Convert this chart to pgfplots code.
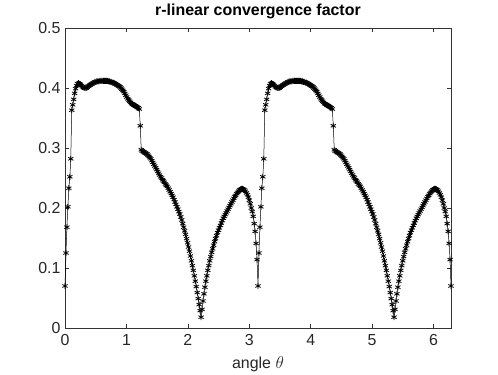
\documentclass[border=0pt]{standalone}
\usepackage{fontspec}
\setmainfont{Liberation Sans}
\usepackage{pgfplots}
\pgfplotsset{compat=1.18}
\begin{document}
\begin{tikzpicture}
\begin{axis}[
  scale only axis, width=386bp, height=300bp,
  xmin=0, xmax=6.2832, ymin=0, ymax=0.5,
  xtick={0,1,2,3,4,5,6}, ytick={0,0.1,0.2,0.3,0.4,0.5},
  tick align=inside, tick pos=both, major tick length=4bp,
  axis line style={black!80, line width=0.5bp},
  every tick/.style={black!80, line width=0.5bp},
  /pgf/number format/assume math mode=true,
  tick label style={font=\fontsize{16}{18}\selectfont, black!85},
  xticklabel style={yshift=-3bp},
  yticklabel style={xshift=-1bp},
  xlabel={angle $\theta$},
  xlabel style={font=\fontsize{16}{18}\selectfont, black!85, at={(axis description cs:0.5,0)}, anchor=base, yshift=-40bp},
  title={r-linear convergence factor},
  title style={font=\bfseries\fontsize{16}{18}\selectfont},
]
\addplot[black, line width=0.5bp, mark=asterisk, mark size=3bp, mark options={line width=0.8bp}] coordinates {
(0.000,0.070) (0.016,0.125) (0.031,0.168) (0.047,0.202) (0.063,0.233) (0.079,0.252) (0.094,0.282) (0.110,0.363) (0.126,0.372) (0.141,0.381)
(0.157,0.391) (0.173,0.399) (0.188,0.404) (0.204,0.407) (0.220,0.408) (0.236,0.407) (0.251,0.406) (0.267,0.404) (0.283,0.402) (0.298,0.401)
(0.314,0.400) (0.330,0.400) (0.346,0.400) (0.361,0.401) (0.377,0.403) (0.393,0.404) (0.408,0.405) (0.424,0.406) (0.440,0.407) (0.456,0.408)
(0.471,0.409) (0.487,0.410) (0.503,0.410) (0.518,0.411) (0.534,0.411) (0.550,0.411) (0.565,0.412) (0.581,0.412) (0.597,0.412) (0.613,0.412)
(0.628,0.412) (0.644,0.412) (0.660,0.412) (0.675,0.412) (0.691,0.412) (0.707,0.411) (0.723,0.411) (0.738,0.410) (0.754,0.410) (0.770,0.409)
(0.785,0.409) (0.801,0.408) (0.817,0.407) (0.833,0.406) (0.848,0.405) (0.864,0.404) (0.880,0.403) (0.895,0.402) (0.911,0.400) (0.927,0.398)
(0.942,0.396) (0.958,0.394) (0.974,0.391) (0.990,0.388) (1.005,0.385) (1.021,0.382) (1.037,0.380) (1.052,0.378) (1.068,0.376) (1.084,0.374)
(1.100,0.373) (1.115,0.372) (1.131,0.371) (1.147,0.370) (1.162,0.369) (1.178,0.368) (1.194,0.367) (1.210,0.365) (1.225,0.337) (1.241,0.297)
(1.257,0.295) (1.272,0.294) (1.288,0.293) (1.304,0.292) (1.319,0.291) (1.335,0.290) (1.351,0.288) (1.367,0.286) (1.382,0.284) (1.398,0.282)
(1.414,0.279) (1.429,0.276) (1.445,0.273) (1.461,0.270) (1.477,0.267) (1.492,0.264) (1.508,0.261) (1.524,0.258) (1.539,0.255) (1.555,0.252)
(1.571,0.250) (1.587,0.247) (1.602,0.245) (1.618,0.243) (1.634,0.240) (1.649,0.238) (1.665,0.236) (1.681,0.233) (1.696,0.230) (1.712,0.227)
(1.728,0.224) (1.744,0.221) (1.759,0.218) (1.775,0.214) (1.791,0.210) (1.806,0.206) (1.822,0.202) (1.838,0.198) (1.854,0.194) (1.869,0.190)
(1.885,0.185) (1.901,0.180) (1.916,0.174) (1.932,0.168) (1.948,0.162) (1.963,0.156) (1.979,0.149) (1.995,0.142) (2.011,0.135) (2.026,0.128)
(2.042,0.120) (2.058,0.112) (2.073,0.104) (2.089,0.096) (2.105,0.087) (2.121,0.078) (2.136,0.069) (2.152,0.059) (2.168,0.049) (2.183,0.039)
(2.199,0.029) (2.215,0.018) (2.231,0.031) (2.246,0.045) (2.262,0.057) (2.278,0.068) (2.293,0.078) (2.309,0.087) (2.325,0.096) (2.341,0.104)
(2.356,0.112) (2.372,0.119) (2.388,0.126) (2.403,0.132) (2.419,0.138) (2.435,0.144) (2.450,0.149) (2.466,0.154) (2.482,0.159) (2.498,0.163)
(2.513,0.167) (2.529,0.171) (2.545,0.175) (2.560,0.179) (2.576,0.183) (2.592,0.186) (2.608,0.189) (2.623,0.192) (2.639,0.195) (2.655,0.198)
(2.670,0.201) (2.686,0.204) (2.702,0.207) (2.717,0.210) (2.733,0.213) (2.749,0.216) (2.765,0.219) (2.780,0.221) (2.796,0.224) (2.812,0.226)
(2.827,0.228) (2.843,0.230) (2.859,0.231) (2.874,0.232) (2.890,0.232) (2.906,0.231) (2.922,0.230) (2.937,0.228) (2.953,0.225) (2.969,0.222)
(2.985,0.218) (3.000,0.213) (3.016,0.207) (3.032,0.200) (3.047,0.194) (3.063,0.186) (3.079,0.174) (3.094,0.161) (3.110,0.141) (3.126,0.114)
(3.142,0.070) (3.157,0.125) (3.173,0.168) (3.189,0.202) (3.204,0.233) (3.220,0.252) (3.236,0.282) (3.252,0.363) (3.267,0.372) (3.283,0.381)
(3.299,0.391) (3.314,0.399) (3.330,0.404) (3.346,0.407) (3.362,0.408) (3.377,0.407) (3.393,0.406) (3.409,0.404) (3.424,0.402) (3.440,0.401)
(3.456,0.400) (3.471,0.400) (3.487,0.400) (3.503,0.401) (3.519,0.403) (3.534,0.404) (3.550,0.405) (3.566,0.406) (3.581,0.407) (3.597,0.408)
(3.613,0.409) (3.629,0.410) (3.644,0.410) (3.660,0.411) (3.676,0.411) (3.691,0.411) (3.707,0.412) (3.723,0.412) (3.738,0.412) (3.754,0.412)
(3.770,0.412) (3.786,0.412) (3.801,0.412) (3.817,0.412) (3.833,0.412) (3.848,0.411) (3.864,0.411) (3.880,0.410) (3.896,0.410) (3.911,0.409)
(3.927,0.409) (3.943,0.408) (3.958,0.407) (3.974,0.406) (3.990,0.405) (4.006,0.404) (4.021,0.403) (4.037,0.402) (4.053,0.400) (4.068,0.398)
(4.084,0.396) (4.100,0.394) (4.115,0.391) (4.131,0.388) (4.147,0.385) (4.163,0.382) (4.178,0.380) (4.194,0.378) (4.210,0.376) (4.225,0.374)
(4.241,0.373) (4.257,0.372) (4.273,0.371) (4.288,0.370) (4.304,0.369) (4.320,0.368) (4.335,0.367) (4.351,0.365) (4.367,0.337) (4.383,0.297)
(4.398,0.295) (4.414,0.294) (4.430,0.293) (4.445,0.292) (4.461,0.291) (4.477,0.290) (4.492,0.288) (4.508,0.286) (4.524,0.284) (4.540,0.282)
(4.555,0.279) (4.571,0.276) (4.587,0.273) (4.602,0.270) (4.618,0.267) (4.634,0.264) (4.650,0.261) (4.665,0.258) (4.681,0.255) (4.697,0.252)
(4.712,0.250) (4.728,0.247) (4.744,0.245) (4.760,0.243) (4.775,0.240) (4.791,0.238) (4.807,0.236) (4.822,0.233) (4.838,0.230) (4.854,0.227)
(4.869,0.224) (4.885,0.221) (4.901,0.218) (4.917,0.214) (4.932,0.210) (4.948,0.206) (4.964,0.202) (4.979,0.198) (4.995,0.194) (5.011,0.190)
(5.027,0.185) (5.042,0.180) (5.058,0.174) (5.074,0.168) (5.089,0.162) (5.105,0.156) (5.121,0.149) (5.137,0.142) (5.152,0.135) (5.168,0.128)
(5.184,0.120) (5.199,0.112) (5.215,0.104) (5.231,0.096) (5.246,0.087) (5.262,0.078) (5.278,0.069) (5.294,0.059) (5.309,0.049) (5.325,0.039)
(5.341,0.029) (5.356,0.018) (5.372,0.031) (5.388,0.045) (5.403,0.057) (5.419,0.068) (5.435,0.078) (5.450,0.087) (5.466,0.096) (5.482,0.104)
(5.498,0.112) (5.513,0.119) (5.529,0.126) (5.545,0.132) (5.561,0.138) (5.576,0.144) (5.592,0.149) (5.608,0.154) (5.623,0.159) (5.639,0.163)
(5.655,0.167) (5.671,0.171) (5.686,0.175) (5.702,0.179) (5.718,0.183) (5.733,0.186) (5.749,0.189) (5.765,0.192) (5.780,0.195) (5.796,0.198)
(5.812,0.201) (5.828,0.204) (5.843,0.207) (5.859,0.210) (5.875,0.213) (5.890,0.216) (5.906,0.219) (5.922,0.221) (5.938,0.224) (5.953,0.226)
(5.969,0.228) (5.985,0.230) (6.000,0.231) (6.016,0.232) (6.032,0.232) (6.048,0.231) (6.063,0.230) (6.079,0.228) (6.095,0.225) (6.110,0.222)
(6.126,0.218) (6.142,0.213) (6.158,0.207) (6.173,0.200) (6.189,0.194) (6.205,0.186) (6.220,0.174) (6.236,0.161) (6.252,0.141) (6.268,0.114)
(6.283,0.070)
};
\end{axis}
\path ([xshift=-65bp,yshift=-46bp]current axis.south west) rectangle ([xshift=47bp,yshift=28bp]current axis.north east);
\end{tikzpicture}
\end{document}
